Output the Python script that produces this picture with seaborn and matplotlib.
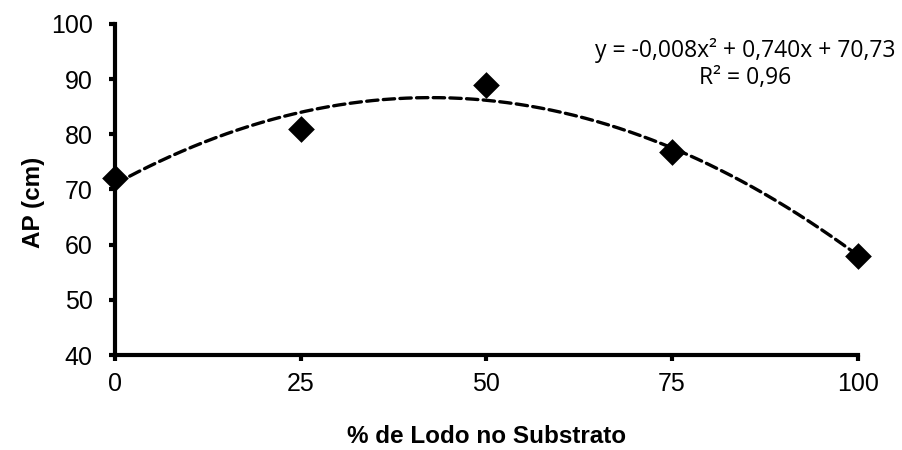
import numpy as np
import pandas as pd
import matplotlib
matplotlib.use("Agg")
import matplotlib.pyplot as plt
import seaborn as sns

# Data
lodo_pct = [0, 25, 50, 75, 100]
ap_cm = [72.0, 81.0, 89.0, 76.7, 58.0]
x_ticks = [0, 25, 50, 75, 100]
y_ticks = [40, 50, 60, 70, 80, 90, 100]
equation_text = "y = -0,008x² + 0,740x + 70,73\nR² = 0,96"
x_label = "% de Lodo no Substrato"
y_label = "AP (cm)"

sns.set_theme(style="white")
plt.rcParams['font.family'] = ['Liberation Sans', 'DejaVu Sans']
plt.rcParams['text.color'] = 'black'
plt.rcParams['axes.labelcolor'] = 'black'

fig = plt.figure(figsize=(9.02, 4.5), dpi=100)
ax = fig.add_axes([0.1275, 0.211, 0.8235, 0.736])

df = pd.DataFrame({"x": lodo_pct, "y": ap_cm})

# Polynomial trendline (order 2) fitted from the data
coef = np.polyfit(df["x"], df["y"], 2)
xs = np.linspace(min(lodo_pct), max(lodo_pct), 200)
trend = pd.DataFrame({"x": xs, "y": np.polyval(coef, xs)})
sns.lineplot(data=trend, x="x", y="y", ax=ax, color="black", linewidth=2.4,
             linestyle=(0, (3.4, 1.6)), dash_capstyle="round", zorder=2)

sns.scatterplot(data=df, x="x", y="y", ax=ax, marker="D", s=185, color="black",
                edgecolor="black", linewidth=0, zorder=3, clip_on=False)

ax.set_xlim(0, 100)
ax.set_ylim(40, 100)
ax.set_xticks(x_ticks)
ax.set_yticks(y_ticks)
ax.tick_params(axis="both", direction="out", length=4, width=3, labelsize=18,
               colors="black", labelcolor="black", bottom=True, left=True)
ax.tick_params(axis="x", pad=8)
ax.tick_params(axis="y", pad=12)
for s in ["top", "right"]:
    ax.spines[s].set_visible(False)
for s in ["left", "bottom"]:
    ax.spines[s].set_linewidth(3)
    ax.spines[s].set_color("black")

ax.set_xlabel(x_label, fontsize=17.5, fontweight="bold", labelpad=21, color="black")
ax.set_ylabel(y_label, fontsize=17.5, fontweight="bold", labelpad=4, color="black")
ax.yaxis.label.set_y(0.46)

fig.text(745 / 902, 1 - 64 / 450, equation_text, ha="center", va="center",
         multialignment="center", fontsize=16.5, family=["Open Sans", "DejaVu Sans"],
         linespacing=1.15, color="black")

fig.savefig("out.png", dpi=100)
